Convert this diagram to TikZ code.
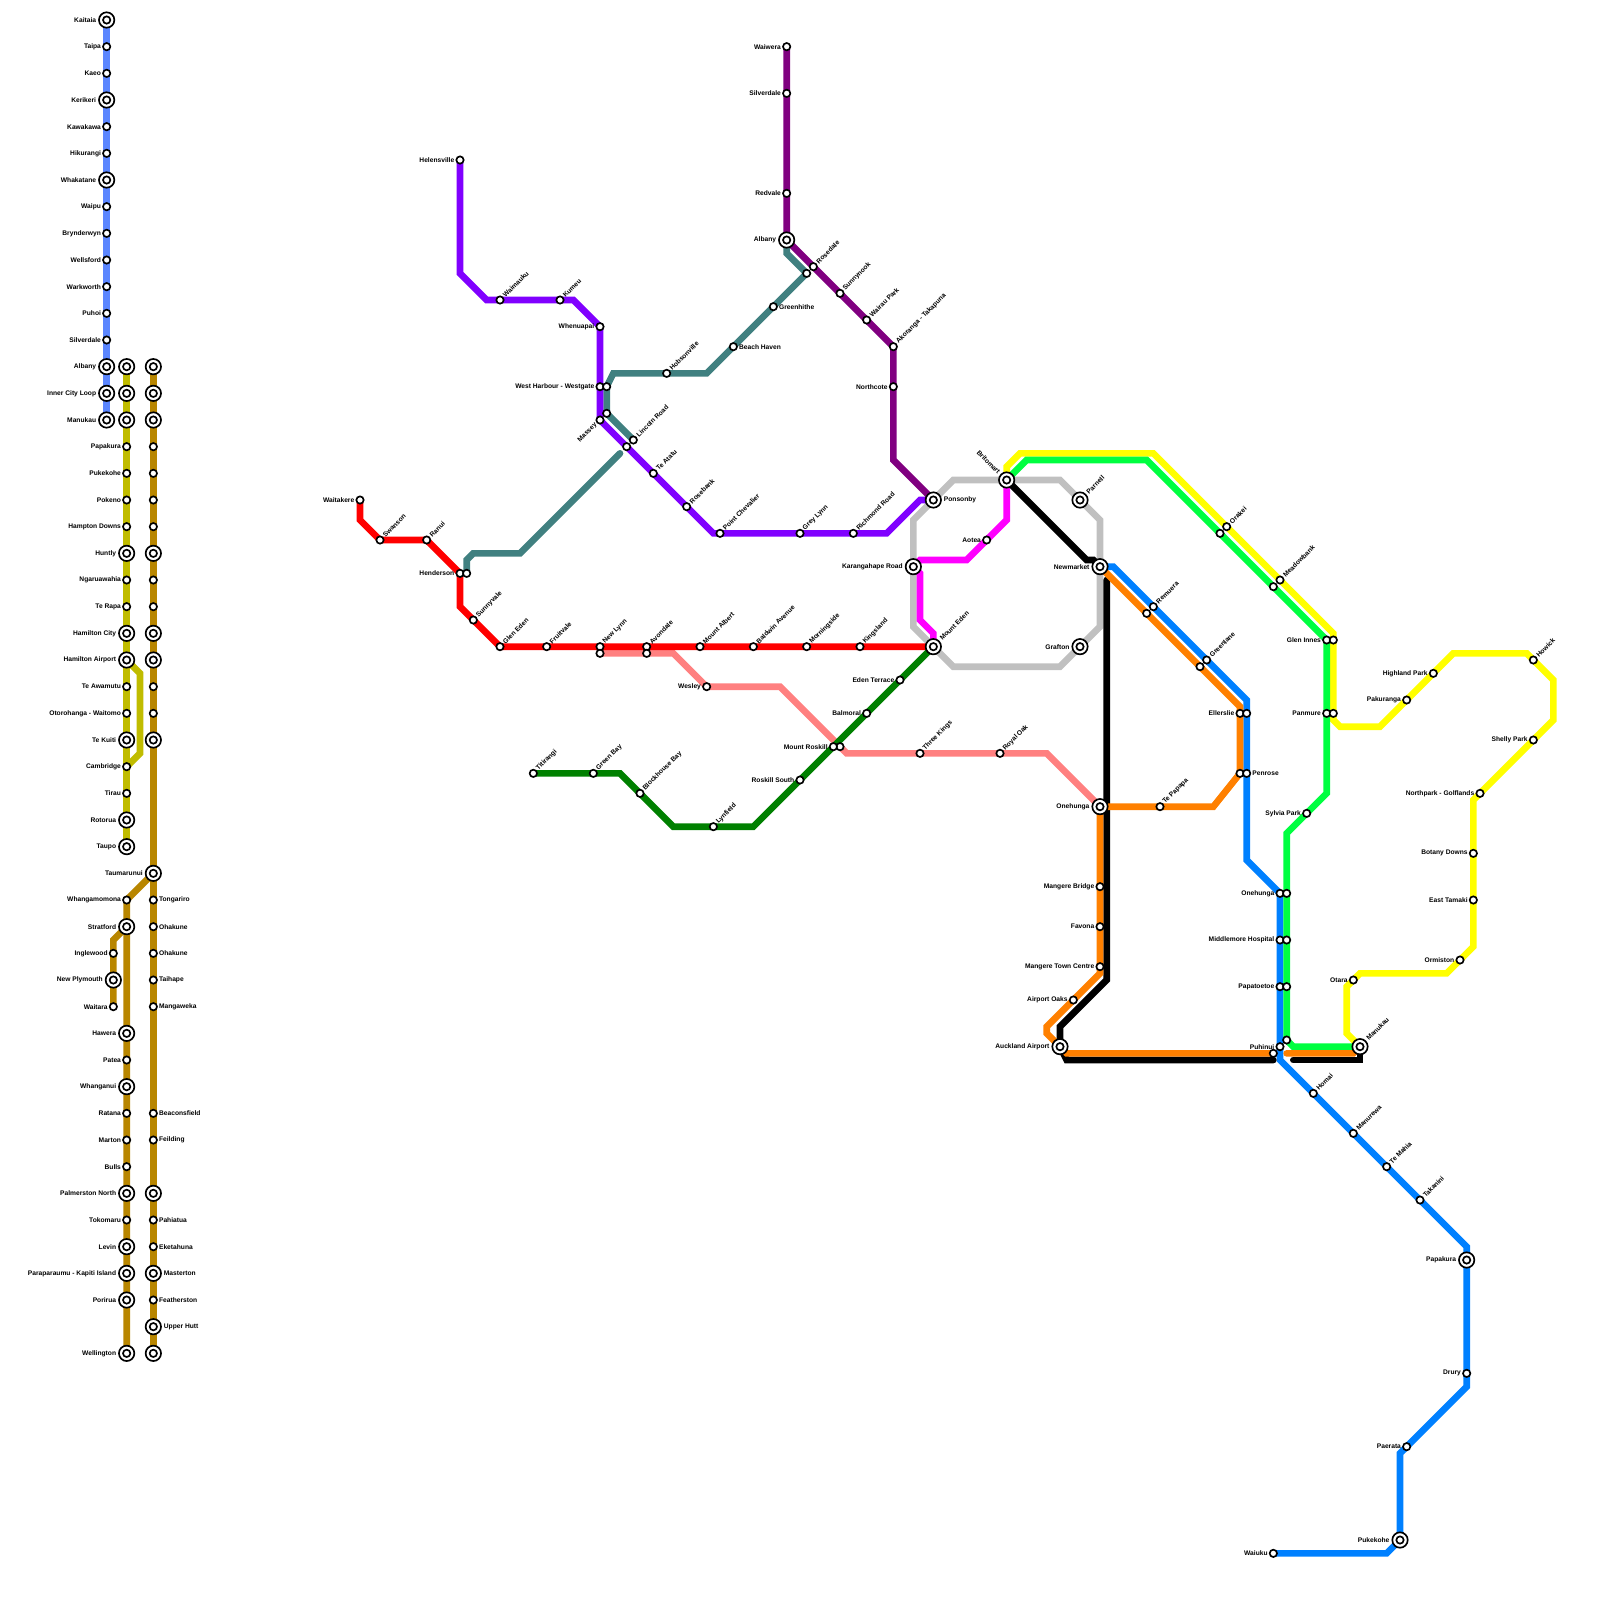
\documentclass[tikz,border=0pt]{standalone}
\usepackage{fontspec}
\setmainfont{Liberation Sans}
\pgfdeclarelayer{bg}
\pgfsetlayers{bg,main}
\definecolor{lnLight}{HTML}{5B86FF}
\definecolor{lnOlive}{HTML}{C0BC00}
\definecolor{lnBrown}{HTML}{B88600}
\definecolor{lnTeal}{HTML}{408080}
\definecolor{lnViolet}{HTML}{8000FF}
\definecolor{lnPlum}{HTML}{800080}
\definecolor{lnPink}{HTML}{FF8080}
\definecolor{lnGreen}{HTML}{00FF40}
\definecolor{lnDark}{HTML}{008000}
\definecolor{lnBlue}{HTML}{0080FF}
\definecolor{lnOrange}{HTML}{FF8000}
\definecolor{lnGrey}{HTML}{C0C0C0}
\definecolor{lnRed}{HTML}{FF0000}
\definecolor{lnMagenta}{HTML}{FF00FF}
\definecolor{lnYellow}{HTML}{FFFF00}
\definecolor{lnBlack}{HTML}{000000}
\tikzset{
 route/.style={line width=2mm,line cap=round,line join=miter},
 smallst/.style={circle,draw=black,fill=white,line width=.5mm,minimum size=2.2mm,inner sep=0pt},
 bigst/.style={circle,draw=black,fill=white,line width=.5mm,minimum size=4.62mm,inner sep=0pt},
 lbl/.style={font=\fontsize{5.69pt}{6pt}\selectfont\bfseries,inner ysep=0pt,inner xsep=\stdist,text=black},
 lblL/.style={lbl,anchor=east},
 lblR/.style={lbl,anchor=west},
 lblU/.style={lbl,anchor=west,rotate=45},
 lblD/.style={lbl,anchor=east,rotate=45},
 lblB/.style={lbl,anchor=east,rotate=-45},
}
% small station with label: id, x, y, side, text
\newcommand{\stnS}[5]{\coordinate (#1) at (#2,#3);
  \node[smallst] (#1-st) at (#1) {};
  \def\stdist{1.65mm}\node[lbl#4] (#1-lb) at (#1) {#5};}
% small station without label
\newcommand{\stnN}[3]{\coordinate (#1) at (#2,#3);
  \node[smallst] (#1-st) at (#1) {};}
% interchange with label
\newcommand{\stnX}[5]{\coordinate (#1) at (#2,#3);
  \node[bigst] (#1-st) at (#1) {};
  \node[smallst] (#1-in) at (#1) {};
  \def\stdist{3.1mm}\node[lbl#4] (#1-lb) at (#1) {#5};}
% interchange without label
\newcommand{\stnY}[3]{\coordinate (#1) at (#2,#3);
  \node[bigst] (#1-st) at (#1) {};
  \node[smallst] (#1-in) at (#1) {};}
\begin{document}
\begin{tikzpicture}[x=2mm,y=-2mm]
\useasboundingbox (0,0) rectangle (240,240);
% ---- Far north column
\stnX{kaitaia}{16}{3}{L}{Kaitaia}
\stnS{taipa}{16}{7}{L}{Taipa}
\stnS{kaeo}{16}{11}{L}{Kaeo}
\stnX{kerikeri}{16}{15}{L}{Kerikeri}
\stnS{kawakawa}{16}{19}{L}{Kawakawa}
\stnS{hikurangi}{16}{23}{L}{Hikurangi}
\stnX{whakatane}{16}{27}{L}{Whakatane}
\stnS{waipu}{16}{31}{L}{Waipu}
\stnS{brynderwyn}{16}{35}{L}{Brynderwyn}
\stnS{wellsford}{16}{39}{L}{Wellsford}
\stnS{warkworth}{16}{43}{L}{Warkworth}
\stnS{puhoi}{16}{47}{L}{Puhoi}
\stnS{silverdaleA}{16}{51}{L}{Silverdale}
\stnX{albanyA}{16}{55}{L}{Albany}
\stnX{iclA}{16}{59}{L}{Inner City Loop}
\stnX{manukauA}{16}{63}{L}{Manukau}
% ---- Column 19
\stnY{albanyB}{19}{55}
\stnY{iclB}{19}{59}
\stnY{manukauB}{19}{63}
\stnS{papakuraB}{19}{67}{L}{Papakura}
\stnS{pukekoheB}{19}{71}{L}{Pukekohe}
\stnS{pokeno}{19}{75}{L}{Pokeno}
\stnS{hampton}{19}{79}{L}{Hampton Downs}
\stnX{huntly}{19}{83}{L}{Huntly}
\stnS{ngaru}{19}{87}{L}{Ngaruawahia}
\stnS{terapa}{19}{91}{L}{Te Rapa}
\stnX{hamcity}{19}{95}{L}{Hamilton City}
\stnX{hamair}{19}{99}{L}{Hamilton Airport}
\stnS{teawamutu}{19}{103}{L}{Te Awamutu}
\stnS{otorohanga}{19}{107}{L}{Otorohanga - Waitomo}
\stnX{tekuiti}{19}{111}{L}{Te Kuiti}
\stnS{cambridge}{19}{115}{L}{Cambridge}
\stnS{tirau}{19}{119}{L}{Tirau}
\stnX{rotorua}{19}{123}{L}{Rotorua}
\stnX{taupo}{19}{127}{L}{Taupo}
\stnS{whanga}{19}{135}{L}{Whangamomona}
\stnX{stratford}{19}{139}{L}{Stratford}
\stnS{inglewood}{17}{143}{L}{Inglewood}
\stnX{newplym}{17}{147}{L}{New Plymouth}
\stnS{waitara}{17}{151}{L}{Waitara}
\stnX{hawera}{19}{155}{L}{Hawera}
\stnS{patea}{19}{159}{L}{Patea}
\stnX{whanganui}{19}{163}{L}{Whanganui}
\stnS{ratana}{19}{167}{L}{Ratana}
\stnS{marton}{19}{171}{L}{Marton}
\stnS{bulls}{19}{175}{L}{Bulls}
\stnX{palmerston}{19}{179}{L}{Palmerston North}
\stnS{tokomaru}{19}{183}{L}{Tokomaru}
\stnX{levin}{19}{187}{L}{Levin}
\stnX{paraparaumu}{19}{191}{L}{Paraparaumu - Kapiti Island}
\stnX{porirua}{19}{195}{L}{Porirua}
\stnX{wellingtonB}{19}{203}{L}{Wellington}
% ---- Column 23
\foreach \yy in {55,59,63,83,95,99,111}{\stnY{cc\yy}{23}{\yy}}
\foreach \yy in {67,71,75,79,87,91,103,107}{\stnN{cc\yy}{23}{\yy}}
\stnX{taumarunui}{23}{131}{L}{Taumarunui}
\stnS{tongariro}{23}{135}{R}{Tongariro}
\stnS{ohakuneA}{23}{139}{R}{Ohakune}
\stnS{ohakuneB}{23}{143}{R}{Ohakune}
\stnS{taihape}{23}{147}{R}{Taihape}
\stnS{mangaweka}{23}{151}{R}{Mangaweka}
\stnS{beaconsfield}{23}{167}{R}{Beaconsfield}
\stnS{feilding}{23}{171}{R}{Feilding}
\stnY{cc179}{23}{179}
\stnS{pahiatua}{23}{183}{R}{Pahiatua}
\stnS{eketahuna}{23}{187}{R}{Eketahuna}
\stnX{masterton}{23}{191}{R}{Masterton}
\stnS{featherston}{23}{195}{R}{Featherston}
\stnX{upperhutt}{23}{199}{R}{Upper Hutt}
\stnY{cc203}{23}{203}
% ---- Red
\stnS{waitakere}{54}{75}{L}{Waitakere}
\stnS{swanson}{57}{81}{U}{Swanson}
\stnS{ranui}{64}{81}{U}{Ranui}
\stnS{henderson}{69}{86}{L}{Henderson}
\stnN{hendersonT}{70}{86}
\stnS{sunnyvale}{71}{93}{U}{Sunnyvale}
\stnS{gleneden}{75}{97}{U}{Glen Eden}
\stnS{fruitvale}{82}{97}{U}{Fruitvale}
\stnS{newlynn}{90}{97}{U}{New Lynn}
\stnN{newlynnP}{90}{98}
\stnS{avondale}{97}{97}{U}{Avondale}
\stnN{avondaleP}{97}{98}
\stnS{mtalbert}{105}{97}{U}{Mount Albert}
\stnS{baldwin}{113}{97}{U}{Baldwin Avenue}
\stnS{morningside}{121}{97}{U}{Morningside}
\stnS{kingsland}{129}{97}{U}{Kingsland}
\stnX{mteden}{140}{97}{U}{Mount Eden}
% ---- Violet
\stnS{helensville}{69}{24}{L}{Helensville}
\stnS{waimauku}{75}{45}{U}{Waimauku}
\stnS{kumeu}{84}{45}{U}{Kumeu}
\stnS{whenuapai}{90}{49}{L}{Whenuapai}
\stnS{westgate}{90}{58}{L}{West Harbour - Westgate}
\stnN{westgateT}{91}{58}
\stnN{masseyT}{91}{62}
\stnS{massey}{90}{63}{D}{Massey}
\stnS{lincoln}{95}{66}{U}{Lincoln Road}
\stnN{lincolnV}{94}{67}
\stnS{teatatu}{98}{71}{U}{Te Atatu}
\stnS{rosebank}{103}{76}{U}{Rosebank}
\stnS{ptchev}{108}{80}{U}{Point Chevalier}
\stnS{greylynn}{120}{80}{U}{Grey Lynn}
\stnS{richmond}{128}{80}{U}{Richmond Road}
\stnX{ponsonby}{140}{75}{R}{Ponsonby}
% ---- Teal / plum
\stnS{hobsonville}{100}{56}{U}{Hobsonville}
\stnS{beachhaven}{110}{52}{R}{Beach Haven}
\stnS{greenhithe}{116}{46}{R}{Greenhithe}
\stnN{rosedaleT}{121}{41}
\stnS{rosedale}{122}{40}{U}{Rosedale}
\stnX{albany}{118}{36}{L}{Albany}
\stnS{waiwera}{118}{7}{L}{Waiwera}
\stnS{silverdale}{118}{14}{L}{Silverdale}
\stnS{redvale}{118}{29}{L}{Redvale}
\stnS{sunnynook}{126}{44}{U}{Sunnynook}
\stnS{wairau}{130}{48}{U}{Wairau Park}
\stnS{akoranga}{134}{52}{U}{Akoranga - Takapuna}
\stnS{northcote}{134}{58}{L}{Northcote}
% ---- Inner loop
\stnX{britomart}{151}{72}{B}{Britomart}
\stnX{parnell}{162}{75}{U}{Parnell}
\stnX{newmarket}{165}{85}{L}{Newmarket}
\stnX{grafton}{162}{97}{L}{Grafton}
\stnX{karanga}{137}{85}{L}{Karangahape Road}
\stnS{aotea}{148}{81}{L}{Aotea}
% ---- Pink / dark green
\stnS{wesley}{106}{103}{L}{Wesley}
\stnN{roskillP}{126}{112}
\stnS{roskill}{125}{112}{L}{Mount Roskill}
\stnS{threekings}{138}{113}{U}{Three Kings}
\stnS{royaloak}{150}{113}{U}{Royal Oak}
\stnX{onehunga}{165}{121}{L}{Onehunga}
\stnS{titirangi}{80}{116}{U}{Titirangi}
\stnS{greenbay}{89}{116}{U}{Green Bay}
\stnS{blockhouse}{96}{119}{U}{Blockhouse Bay}
\stnS{lynfield}{107}{124}{U}{Lynfield}
\stnS{roskills}{120}{117}{L}{Roskill South}
\stnS{balmoral}{130}{107}{L}{Balmoral}
\stnS{edenterr}{135}{102}{L}{Eden Terrace}
% ---- Orange / blue
\stnS{remuera}{173}{91}{U}{Remuera}
\stnN{remueraO}{172}{92}
\stnS{greenlane}{181}{99}{U}{Greenlane}
\stnN{greenlaneO}{180}{100}
\stnS{ellerslie}{186}{107}{L}{Ellerslie}
\stnN{ellerslieB}{187}{107}
\stnN{penroseO}{186}{116}
\stnS{penrose}{187}{116}{R}{Penrose}
\stnS{tepapapa}{174}{121}{U}{Te Papapa}
\stnS{mangerebr}{165}{133}{L}{Mangere Bridge}
\stnS{favona}{165}{139}{L}{Favona}
\stnS{mangeretc}{165}{145}{L}{Mangere Town Centre}
\stnS{airportoaks}{161}{150}{L}{Airport Oaks}
\stnX{airport}{159}{157}{L}{Auckland Airport}
\stnS{onehungaB}{192}{134}{L}{Onehunga}
\stnN{onehungaG}{193}{134}
\stnS{middlemore}{192}{141}{L}{Middlemore Hospital}
\stnN{middlemoreG}{193}{141}
\stnS{papatoetoe}{192}{148}{L}{Papatoetoe}
\stnN{papatoetoeG}{193}{148}
\stnS{puhinui}{192}{157}{L}{Puhinui}
\stnN{puhinuiG}{193}{156}
\stnN{puhinuiO}{191}{158}
\stnS{homai}{197}{164}{U}{Homai}
\stnS{manurewa}{203}{170}{U}{Manurewa}
\stnS{temahia}{208}{175}{U}{Te Mahia}
\stnS{takanini}{213}{180}{U}{Takanini}
\stnX{papakura}{220}{189}{L}{Papakura}
\stnS{drury}{220}{206}{L}{Drury}
\stnS{paerata}{211}{217}{L}{Paerata}
\stnX{pukekohe}{210}{231}{L}{Pukekohe}
\stnS{waiuku}{191}{233}{L}{Waiuku}
% ---- Green / yellow
\stnS{orakei}{184}{79}{U}{Orakei}
\stnN{orakeiG}{183}{80}
\stnS{meadowbank}{192}{87}{U}{Meadowbank}
\stnN{meadowbankG}{191}{88}
\stnS{gleninnes}{199}{96}{L}{Glen Innes}
\stnN{gleninnesY}{200}{96}
\stnS{panmure}{199}{107}{L}{Panmure}
\stnN{panmureY}{200}{107}
\stnS{sylvia}{196}{122}{L}{Sylvia Park}
\stnS{pakuranga}{211}{105}{L}{Pakuranga}
\stnS{highland}{215}{101}{L}{Highland Park}
\stnS{howick}{230}{99}{U}{Howick}
\stnS{shelly}{230}{111}{L}{Shelly Park}
\stnS{northpark}{222}{119}{L}{Northpark - Golflands}
\stnS{botany}{221}{128}{L}{Botany Downs}
\stnS{easttamaki}{221}{135}{L}{East Tamaki}
\stnS{ormiston}{219}{144}{L}{Ormiston}
\stnS{otara}{203}{147}{L}{Otara}
\stnX{manukau}{204}{157}{U}{Manukau}

\begin{pgfonlayer}{bg}
% Grey loop
\draw[route,lnGrey] (143,72) -- (britomart) -- (159,72) -- (165,78) -- (newmarket) -- (165,94) -- (159,100) -- (143,100) -- (mteden) -- (137,94) -- (karanga) -- (137,78) -- cycle;
% Columns
\draw[route,lnLight] (kaitaia) -- (manukauA);
\draw[route,lnOlive] (albanyB) -- (taupo);
\draw[route,lnOlive] (hamair) -- (21,101) -- (21,113) -- (cambridge);
\draw[route,lnBrown] (cc55) -- (cc203);
\draw[route,lnBrown] (taumarunui) -- (whanga) -- (stratford) -- (wellingtonB);
\draw[route,lnBrown] (stratford) -- (17,141) -- (waitara);
% Teal
\draw[route,lnTeal] (albany) -- (118,38) -- (rosedaleT) -- (greenhithe) -- (beachhaven) -- (106,56) -- (hobsonville) -- (92,56) -- (westgateT) -- (masseyT) -- (lincoln);
\draw[route,lnTeal] (93,68) -- (78,83) -- (71,83) -- (70,84) -- (hendersonT);
% Violet
\draw[route,lnViolet] (helensville) -- (69,41) -- (73,45) -- (waimauku) -- (kumeu) -- (86,45) -- (whenuapai) -- (westgate) -- (massey) -- (lincolnV) -- (teatatu) -- (rosebank) -- (107,80) -- (ptchev) -- (greylynn) -- (richmond) -- (133,80) -- (138,75) -- (ponsonby);
% Plum
\draw[route,lnPlum] (waiwera) -- (silverdale) -- (redvale) -- (albany) -- (rosedale) -- (sunnynook) -- (wairau) -- (akoranga) -- (northcote) -- (134,69) -- (ponsonby);
% Pink
\draw[route,lnPink] (newlynnP) -- (avondaleP) -- (101,98) -- (wesley) -- (117,103) -- (roskillP) -- (127,113) -- (threekings) -- (royaloak) -- (157,113) -- (onehunga);
% Red
\draw[route,lnRed] (waitakere) -- (54,78) -- (swanson) -- (ranui) -- (henderson) -- (69,91) -- (sunnyvale) -- (gleneden) -- (fruitvale) -- (newlynn) -- (avondale) -- (mtalbert) -- (baldwin) -- (morningside) -- (kingsland) -- (mteden);
% Dark green
\draw[route,lnDark] (titirangi) -- (greenbay) -- (93,116) -- (blockhouse) -- (101,124) -- (lynfield) -- (113,124) -- (roskills) -- (roskill) -- (balmoral) -- (edenterr) -- (mteden);
% Magenta
\draw[route,lnMagenta] (britomart) -- (151,78) -- (aotea) -- (145,84) -- (138,84) -- (karanga) -- (138,86) -- (138,93) -- (140,95) -- (mteden);
% Yellow
\draw[route,lnYellow] (britomart) -- (151,70) -- (153,68) -- (173,68) -- (orakei) -- (meadowbank) -- (200,95) -- (gleninnesY) -- (panmureY) -- (200,108) -- (201,109) -- (207,109) -- (pakuranga) -- (highland) -- (218,98) -- (229,98) -- (howick) -- (233,102) -- (233,108) -- (shelly) -- (northpark) -- (221,120) -- (botany) -- (easttamaki) -- (221,142) -- (ormiston) -- (217,146) -- (204,146) -- (otara) -- (202,148) -- (202,155) -- (manukau);
% Blue
\draw[route,lnBlue] (newmarket) -- (167,85) -- (remuera) -- (greenlane) -- (187,105) -- (ellerslieB) -- (penrose) -- (187,129) -- (onehungaB) -- (middlemore) -- (papatoetoe) -- (puhinui) -- (192,159) -- (homai) -- (manurewa) -- (temahia) -- (takanini) -- (220,187) -- (papakura) -- (drury) -- (220,208) -- (paerata) -- (210,218) -- (pukekohe) -- (208,233) -- (waiuku);
% Green
\draw[route,lnGreen] (britomart) -- (154,69) -- (172,69) -- (orakeiG) -- (meadowbankG) -- (gleninnes) -- (panmure) -- (199,119) -- (sylvia) -- (193,125) -- (onehungaG) -- (middlemoreG) -- (papatoetoeG) -- (puhinuiG) -- (194,157) -- (manukau);
% Black
\draw[route,lnBlack] (britomart) -- (163,84) -- (164,84) -- (newmarket);
\draw[route,lnBlack] (166,87) -- (166,147) -- (159,154) -- (airport) -- (160,159) -- (191,159);
\draw[route,lnBlack] (194,159) -- (204,159) -- (manukau);
% Orange
\draw[route,lnOrange] (newmarket) -- (remueraO) -- (greenlaneO) -- (186,106) -- (ellerslie) -- (penroseO) -- (182,121) -- (tepapapa) -- (onehunga) -- (mangerebr) -- (favona) -- (mangeretc) -- (165,146) -- (airportoaks) -- (157,154) -- (157,155) -- (airport) -- (160,158) -- (puhinuiO);
\draw[route,lnOrange] (193,158) -- (203,158) -- (manukau);
\end{pgfonlayer}
\end{tikzpicture}
\end{document}
